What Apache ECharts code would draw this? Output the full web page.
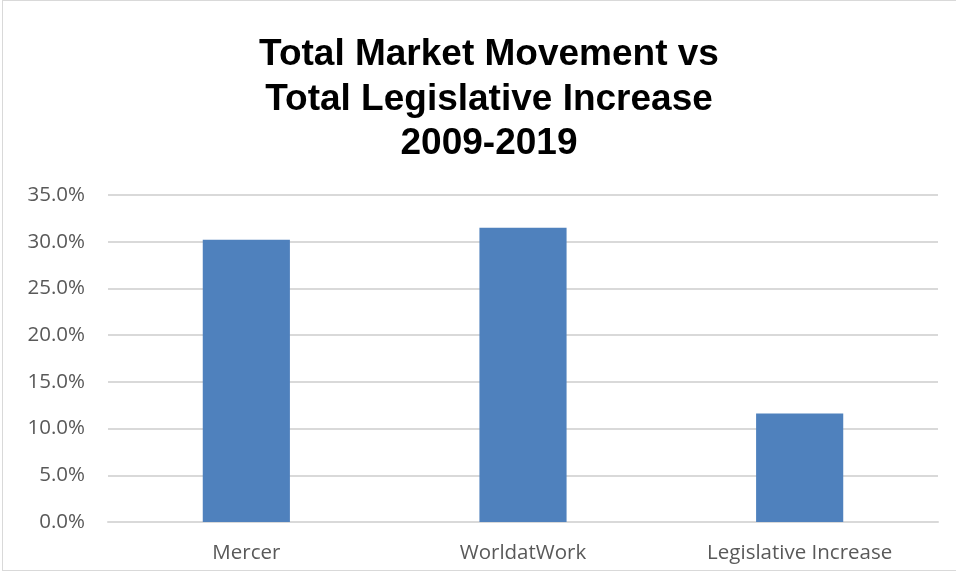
<!DOCTYPE html>
<html>
<head>
<meta charset="utf-8">
<script src="https://cdn.jsdelivr.net/npm/echarts@6/dist/echarts.min.js"></script>
<style>
html,body{margin:0;padding:0;background:#fff;}
#c{position:absolute;left:0;top:0;width:956px;height:575px;}
#frame{position:absolute;left:2px;top:0px;width:960px;height:571px;border:1px solid #d9d9d9;box-sizing:border-box;}
</style>
</head>
<body>
<div id="frame"></div>
<div id="c"></div>
<script>
const titleLines = ['Total Market Movement vs', 'Total Legislative Increase', '2009-2019'];
const categories = ['Mercer', 'WorldatWork', 'Legislative Increase'];
const values = [30.2, 31.5, 11.6];
const yTicks = [0, 5, 10, 15, 20, 25, 30, 35];

const chart = echarts.init(document.getElementById('c'), null, {renderer: 'canvas'});
chart.setOption({
  backgroundColor: 'transparent',
  animation: false,
  title: {
    text: titleLines.join('\n'),
    left: 484,
    textAlign: 'center',
    top: 28,
    textStyle: {
      fontFamily: 'Liberation Sans, Arial, sans-serif',
      fontWeight: 'bold',
      fontSize: 37,
      lineHeight: 44.5,
      color: '#000'
    }
  },
  grid: {left: 108, right: 18, top: 195, bottom: 53, containLabel: false},
  xAxis: {
    type: 'category',
    data: categories,
    axisLine: {show: true, lineStyle: {color: '#d9d9d9', width: 2}},
    axisTick: {show: false},
    axisLabel: {
      color: '#595959',
      fontSize: 20.5,
      fontFamily: 'Open Sans, sans-serif',
      margin: 21
    }
  },
  yAxis: {
    type: 'value',
    min: yTicks[0],
    max: yTicks[yTicks.length - 1],
    interval: 5,
    axisLine: {show: false},
    axisTick: {show: false},
    splitLine: {lineStyle: {color: '#d9d9d9', width: 2}},
    axisLabel: {
      color: '#595959',
      fontSize: 20.5,
      fontFamily: 'Open Sans, sans-serif',
      margin: 23,
      formatter: v => v.toFixed(1) + '%'
    }
  },
  series: [{
    type: 'bar',
    data: values,
    barWidth: '31.5%',
    itemStyle: {color: '#4f81bd'}
  }]
});
</script>
</body>
</html>
